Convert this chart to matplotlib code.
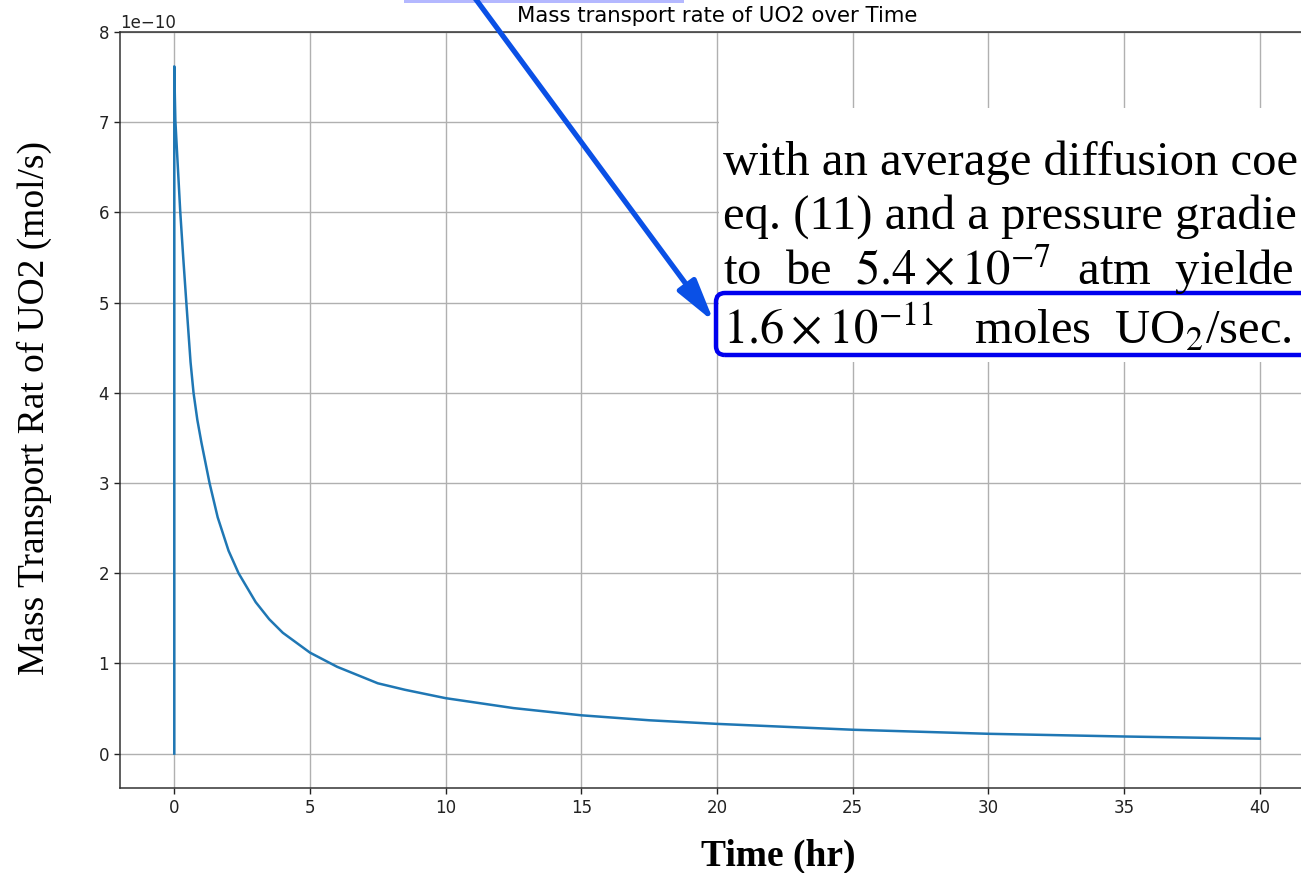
import matplotlib
matplotlib.use('Agg')
import matplotlib.pyplot as plt
from matplotlib.patches import Rectangle, FancyBboxPatch, FancyArrowPatch
from matplotlib.transforms import IdentityTransform

################################################################################
### data (time in hr, rate in units of 1e-10 mol/s)
time_hr = [0, 0, 0.02, 0.04, 0.1, 0.22, 0.33, 0.44, 0.6, 0.71, 0.85, 1.0,
           1.3, 1.6, 2.0, 2.37, 3.0, 3.5, 4.0, 5.0, 6.0, 7.5, 8.5, 10, 12.5,
           15, 17.5, 20, 25, 30, 35, 40]
rate_e10 = [0, 7.62, 7.3, 7.02, 6.68, 6.01, 5.5, 5.02, 4.34, 4.0, 3.7, 3.45,
            3.0, 2.62, 2.25, 2.0, 1.68, 1.49, 1.34, 1.12, 0.963, 0.78, 0.708,
            0.615, 0.505, 0.425, 0.37, 0.33, 0.265, 0.22, 0.19, 0.166]
rate_mol_s = [v * 1e-10 for v in rate_e10]

# pasted text snippet from the paper (cut at the right edge in the reference)
snippet_lines = [
    'with an average diffusion coe',
    'eq. (11) and a pressure gradie',
    r'to  be  $5.4\times10^{-7}$  atm  yielde',
    r'$1.6\times10^{-11}$   moles  UO$_2$/sec.',
]

################################################################################
W, H = 1301, 873
plt.rcParams['mathtext.fontset'] = 'stix'

fig = plt.figure(figsize=(W / 100, H / 100), dpi=100)
ax = fig.add_axes([120 / W, 1 - 788 / H, (1314 - 120) / W, (788 - 32) / H])

ax.plot(time_hr, rate_mol_s, color='#1f77b4', lw=1.8)
ax.grid(True, color='#b0b0b0', lw=1.0)
ax.set_axisbelow(True)
ax.set_title('Mass transport rate of UO2 over Time', fontsize=15.3, pad=7)
ax.tick_params(labelsize=12, length=4.5, width=1.0, colors='#222222')
ax.yaxis.get_offset_text().set_fontsize(12)
for s in ax.spines.values():
    s.set_linewidth(1.1)
    s.set_color('#333333')

ax.set_xlabel('Time (hr)', family='Liberation Serif', fontweight='bold',
              fontsize=27, va='baseline')
ax.xaxis.set_label_coords((778 - 120) / 1194, (788 - 866) / 756)
ax.set_ylabel('Mass Transport Rat of UO2 (mol/s)', family='Liberation Serif',
              fontsize=27, va='center')
ax.yaxis.set_label_coords((34 - 120) / 1194, (788 - 408) / 756)

################################################################################
### overlay: pasted snippet, box and arrow (pixel coords, y from top)
tr = IdentityTransform()
def P(x, y):
    return (x, H - y)

fig.add_artist(Rectangle(P(404, 3), 280, 3, transform=tr, fc='#b4b8ff',
                         ec='none', zorder=4))
fig.add_artist(Rectangle(P(719, 362), 700, 362 - 108, transform=tr,
                         fc='white', ec='none', zorder=5))
fig.add_artist(FancyBboxPatch(P(716, 355), 700, 62,
                              boxstyle='round,pad=0,rounding_size=9',
                              transform=tr, fc='none', ec='#0000ee', lw=3.2,
                              zorder=7))

baselines = [175, 229, 285, 343]
for line, yb in zip(snippet_lines, baselines):
    fig.text(723 / W, 1 - yb / H, line, family='Liberation Serif',
             fontsize=35, ha='left', va='baseline', zorder=8)

fig.add_artist(FancyArrowPatch(P(469, -10), P(714, 322), transform=tr,
                               arrowstyle='-|>,head_length=0.85,head_width=0.22',
                               mutation_scale=30, color='#0a50e6', lw=3.8,
                               shrinkA=0, shrinkB=0, zorder=9))

fig.savefig('out.png', dpi=100)
